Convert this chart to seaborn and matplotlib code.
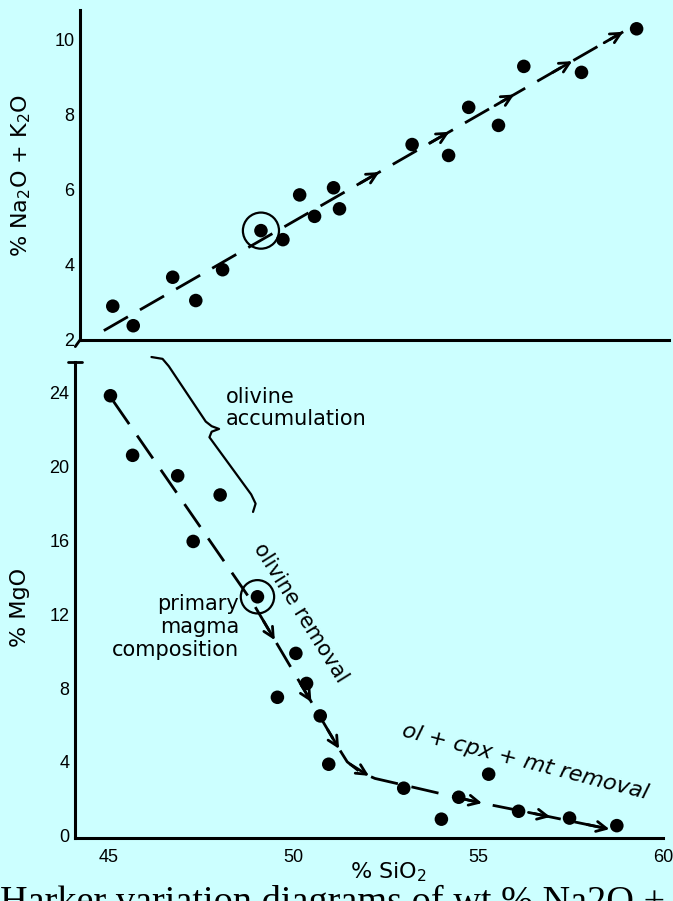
import numpy as np
import pandas as pd
import matplotlib
matplotlib.use("Agg")
import matplotlib.pyplot as plt
import seaborn as sns

# ---------------- data ----------------
sio2_top = [45.06, 45.61, 46.67, 47.29, 48.01, 49.04, 49.63, 50.08, 50.48,
            50.99, 51.15, 53.10, 54.08, 54.62, 55.42, 56.10, 57.65, 59.13]
alk_top = [2.90, 2.38, 3.67, 3.05, 3.87, 4.91, 4.67, 5.86, 5.29,
           6.05, 5.49, 7.20, 6.91, 8.19, 7.71, 9.28, 9.12, 10.28]
primary_top = [49.04, 4.91]

sio2_bot = [45.04, 45.64, 46.86, 48.01, 47.28, 49.02, 50.06, 50.35, 49.56,
            50.72, 50.95, 52.98, 55.28, 54.00, 54.47, 56.09, 57.47, 58.75]
mgo_bot = [23.85, 20.62, 19.51, 18.47, 15.95, 12.95, 9.88, 8.25, 7.50,
           6.49, 3.87, 2.57, 3.33, 0.89, 2.08, 1.32, 0.95, 0.54]
primary_bot = [49.02, 12.95]

trend_top_x = [44.82, 58.77]
trend_top_y = [2.25, 10.20]
arrows_top_x = [52.22, 54.10, 55.84, 57.40, 58.77]

trend_bot_x = [45.12, 48.90, 51.20, 51.45, 51.80, 52.20, 53.50, 55.00, 56.50, 58.55]
trend_bot_y = [23.55, 12.60, 4.80, 4.00, 3.45, 3.10, 2.50, 1.80, 1.20, 0.35]
arrows_bot_x = [49.49, 50.48, 51.23, 52.04, 55.10, 56.95, 58.55]

brace_x = [46.15, 46.45, 46.62, 47.62, 47.78, 47.98, 47.78, 47.72, 48.85, 48.97, 48.90]
brace_y = [25.95, 25.85, 25.45, 22.45, 22.20, 22.05, 21.90, 21.60, 18.50, 18.00, 17.55]

x_ticks = [45, 50, 55, 60]
top_yticks = [2, 4, 6, 8, 10]
bot_yticks = [0, 4, 8, 12, 16, 20, 24]

# ---------------- style ----------------
sns.set_theme(style="white")
plt.rcParams["font.family"] = ["DejaVu Sans"]
plt.rcParams["lines.scale_dashes"] = False
for k in ("text.color", "axes.labelcolor", "xtick.color", "ytick.color"):
    plt.rcParams[k] = "black"
BG = "#CCFFFF"

W, H = 673, 901
fig = plt.figure(figsize=(W / 100, H / 100), dpi=100)
fig.patch.set_facecolor(BG)


def px_axes(left, right, top, bottom):
    return fig.add_axes([left / W, (H - bottom) / H, (right - left) / W, (bottom - top) / H])


ax1 = px_axes(80, 669, 10, 340)
ax2 = px_axes(75, 663, 362, 838)

ax1.set_xlim(44.18, 60)
ax1.set_ylim(2, 10.78)
ax2.set_xlim(44.08, 60)
ax2.set_ylim(-0.13, 25.68)

for ax in (ax1, ax2):
    ax.set_facecolor("none")
    for s in ("top", "right"):
        ax.spines[s].set_visible(False)
    for s in ("left", "bottom"):
        ax.spines[s].set_linewidth(2.2)
        ax.spines[s].set_color("black")
    ax.tick_params(direction="in", length=12, width=2.2, colors="black",
                   labelsize=13, pad=4)
    ax.set_xticks(x_ticks)

ax1.set_yticks(top_yticks)
ax1.set_yticklabels([str(v) for v in top_yticks], fontfamily="Liberation Sans")
ax1.tick_params(axis="x", labelbottom=False)
ax2.set_yticks(bot_yticks)
ax2.set_yticklabels([str(v) for v in bot_yticks], fontfamily="Liberation Sans")
ax2.set_xticklabels([str(v) for v in x_ticks], fontfamily="Liberation Sans")
ax2.tick_params(axis="x", pad=8)

# ---------------- trend lines ----------------
dash = (0, (20, 10))
sns.lineplot(x=trend_top_x, y=trend_top_y, ax=ax1, color="black", lw=2,
             linestyle=dash, sort=False, estimator=None, zorder=2)
sns.lineplot(x=trend_bot_x, y=trend_bot_y, ax=ax2, color="black", lw=2,
             linestyle=dash, sort=False, estimator=None, zorder=2)


def arrows(ax, xs, ys, tips, length_px=22):
    for tx in tips:
        fx = np.linspace(xs[0], tx, 600)
        fy = np.interp(fx, xs, ys)
        pts = ax.transData.transform(np.column_stack([fx, fy]))
        d = np.hypot(*(pts - pts[-1]).T)
        idx = np.where(d >= length_px)[0][-1]
        ax.annotate("", xy=(fx[-1], fy[-1]), xytext=(fx[idx], fy[idx]),
                    arrowprops=dict(arrowstyle="->", lw=2, color="black",
                                    mutation_scale=18, shrinkA=0, shrinkB=0),
                    zorder=3)


arrows(ax1, trend_top_x, trend_top_y, arrows_top_x)
arrows(ax2, trend_bot_x, trend_bot_y, arrows_bot_x)

# ---------------- points ----------------
top_df = pd.DataFrame({"SiO2": sio2_top, "alk": alk_top})
bot_df = pd.DataFrame({"SiO2": sio2_bot, "MgO": mgo_bot})
sns.scatterplot(data=top_df, x="SiO2", y="alk", ax=ax1, color="black", s=95,
                edgecolor="none", zorder=4, legend=False)
sns.scatterplot(data=bot_df, x="SiO2", y="MgO", ax=ax2, color="black", s=95,
                edgecolor="none", zorder=4, legend=False)
ax1.scatter([primary_top[0]], [primary_top[1]], s=26 ** 2, facecolor="none",
            edgecolor="black", linewidth=1.6, zorder=4)
ax2.scatter([primary_bot[0]], [primary_bot[1]], s=24 ** 2, facecolor="none",
            edgecolor="black", linewidth=1.6, zorder=4)

# ---------------- labels ----------------
ax1.set_xlabel("")
ax1.set_ylabel("% Na$_2$O + K$_2$O", fontsize=16)
ax1.yaxis.set_label_coords(-0.079, 0.50)
ax2.set_ylabel("% MgO", fontsize=16)
ax2.yaxis.set_label_coords(-0.076, 0.485)
ax2.set_xlabel("% SiO$_2$", fontsize=16)
ax2.xaxis.set_label_coords(0.532, -0.048)

# ---------------- annotations ----------------
ax2.plot(brace_x, brace_y, color="black", lw=1.6, clip_on=False, zorder=3)
ax2.text(48.16, 23.2, "olivine\naccumulation", fontsize=15, ha="left",
         va="center", linespacing=1.15)
ax2.text(48.52, 11.3, "primary\nmagma\ncomposition", fontsize=15, ha="right",
         va="center", linespacing=1.2)
ax2.text(50.2, 12.1, "olivine removal", fontsize=15, ha="center", va="center",
         rotation=-58, rotation_mode="anchor")
ax2.text(56.28, 4.0, "ol + cpx + mt removal", fontsize=16, ha="center",
         va="center", rotation=-14.4, rotation_mode="anchor", style="italic")

# axis break caps
ax2.plot([-0.012, 0.012], [1.0, 1.0], transform=ax2.transAxes, color="black",
         lw=2, clip_on=False)
ax1.plot([0.0, -0.008], [0.0, -0.02], transform=ax1.transAxes, color="black",
         lw=2, clip_on=False)

# cut-off caption at the bottom
fig.text(0.0, -0.012, "Harker variation diagrams of wt % Na2O + K2O",
         fontfamily="Liberation Serif", fontsize=27.5, va="baseline", ha="left")

fig.savefig("out.png", dpi=100, facecolor=BG)
